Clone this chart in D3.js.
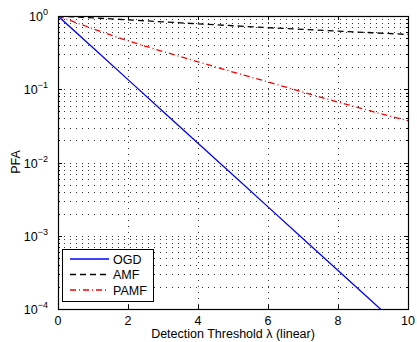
<!DOCTYPE html>
<html lang="en">
<head>
<meta charset="UTF-8">
<title>PFA vs Detection Threshold</title>
<script src="https://cdn.jsdelivr.net/npm/d3@7.8.5/dist/d3.min.js"></script>
<style>
  body { margin: 0; background: #fff; }
  svg { display: block; font-family: "Liberation Sans", Arial, sans-serif; }
  .grid line { stroke: #333; stroke-width: 1; stroke-dasharray: 1,5; }
</style>
</head>
<body>
<svg id="chart" width="417" height="342"></svg>
<script>
// Data
const lambda = [0, 1, 2, 3, 4, 5, 6, 7, 8, 9, 10];
const ogd = lambda.map(v => Math.exp(-v));          // straight line, 1e-4 near 9.2
const amfLog = [0, -0.026, -0.052, -0.08, -0.107, -0.133, -0.16, -0.183, -0.206, -0.229, -0.252];
const pamfLog = [0, -0.175, -0.34, -0.485, -0.625, -0.765, -0.9, -1.04, -1.175, -1.305, -1.43];
const amf = amfLog.map(v => Math.pow(10, v));
const pamf = pamfLog.map(v => Math.pow(10, v));

const xTicks = [0, 2, 4, 6, 8, 10];
const yDecades = [0, -1, -2, -3, -4];

const series = [
  { name: "OGD", values: ogd, color: "#0000ff", dash: null },
  { name: "AMF", values: amf, color: "#000000", dash: "6,4" },
  { name: "PAMF", values: pamf, color: "#ff0000", dash: "6,3,1,3" }
];

const svg = d3.select("#chart");
const m = { left: 58, right: 408, top: 16, bottom: 309 };

const x = d3.scaleLinear().domain([0, 10]).range([m.left, m.right]);
const y = d3.scaleLog().domain([1e-4, 1]).range([m.bottom, m.top]);

// minor positions
const minors = [];
yDecades.slice(1).forEach(e => {
  for (let k = 2; k <= 9; k++) minors.push(k * Math.pow(10, e));
});

// grid
const grid = svg.append("g").attr("class", "grid");
grid.selectAll(".hy").data(minors.concat(yDecades.slice(1, 4).map(e => Math.pow(10, e))))
  .enter().append("line")
  .attr("x1", m.left).attr("x2", m.right)
  .attr("y1", d => Math.round(y(d)) + 0.5).attr("y2", d => Math.round(y(d)) + 0.5);
grid.selectAll(".vx").data(xTicks.slice(1, -1))
  .enter().append("line")
  .attr("y1", m.top).attr("y2", m.bottom)
  .attr("x1", d => Math.round(x(d)) + 0.5).attr("x2", d => Math.round(x(d)) + 0.5);

// series
const plot = svg.append("g");
const clip = svg.append("clipPath").attr("id", "clip").append("rect")
  .attr("x", m.left).attr("y", m.top).attr("width", m.right - m.left).attr("height", m.bottom - m.top);
const line = d3.line().x((d, i) => x(lambda[i])).y(d => y(d));
series.forEach(s => {
  plot.append("path")
    .attr("clip-path", "url(#clip)")
    .attr("d", line(s.values))
    .attr("fill", "none")
    .attr("stroke", s.color)
    .attr("stroke-width", 1.3)
    .attr("stroke-dasharray", s.dash);
});

// frame
svg.append("rect")
  .attr("x", m.left + 0.5).attr("y", m.top + 0.5)
  .attr("width", m.right - m.left).attr("height", m.bottom - m.top)
  .attr("fill", "none").attr("stroke", "#000").attr("stroke-width", 1.2);

// ticks (inside, all four sides)
const tk = svg.append("g").attr("stroke", "#000").attr("stroke-width", 1);
xTicks.forEach(t => {
  const px = Math.round(x(t)) + 0.5;
  tk.append("line").attr("x1", px).attr("x2", px).attr("y1", m.bottom).attr("y2", m.bottom - 4);
  tk.append("line").attr("x1", px).attr("x2", px).attr("y1", m.top).attr("y2", m.top + 4);
});
yDecades.forEach(e => {
  const py = Math.round(y(Math.pow(10, e))) + 0.5;
  tk.append("line").attr("x1", m.left).attr("x2", m.left + 4).attr("y1", py).attr("y2", py);
  tk.append("line").attr("x1", m.right).attr("x2", m.right - 4).attr("y1", py).attr("y2", py);
});
minors.forEach(v => {
  const py = Math.round(y(v)) + 0.5;
  tk.append("line").attr("x1", m.left).attr("x2", m.left + 2).attr("y1", py).attr("y2", py);
  tk.append("line").attr("x1", m.right).attr("x2", m.right - 2).attr("y1", py).attr("y2", py);
});

// tick labels
svg.append("g").selectAll("text").data(xTicks).enter().append("text")
  .attr("x", d => x(d)).attr("y", 325)
  .attr("text-anchor", "middle").attr("font-size", 12.5).text(d => d);

const yl = svg.append("g");
yDecades.forEach(e => {
  const py = y(Math.pow(10, e));
  const t = yl.append("text").attr("x", 48).attr("y", py + 5)
    .attr("text-anchor", "end").attr("font-size", 12.5);
  t.append("tspan").text("10");
  t.append("tspan").attr("dy", -6).attr("font-size", 9).text(e === 0 ? "0" : "\u2212" + (-e));
});

// axis labels
svg.append("text").attr("x", x(5)).attr("y", 338)
  .attr("text-anchor", "middle").attr("font-size", 12.5)
  .text("Detection Threshold \u03bb (linear)");
svg.append("text").attr("transform", "translate(20,162) rotate(-90)")
  .attr("text-anchor", "middle").attr("font-size", 12.5).text("PFA");

// legend
const lg = svg.append("g");
lg.append("rect").attr("x", 62.5).attr("y", 249.5).attr("width", 91).attr("height", 52)
  .attr("fill", "#fff").attr("stroke", "#000");
series.forEach((s, i) => {
  const ly = 259 + i * 15.5;
  lg.append("line").attr("x1", 70).attr("x2", 109).attr("y1", ly).attr("y2", ly)
    .attr("stroke", s.color).attr("stroke-width", 1.3).attr("stroke-dasharray", s.dash);
  lg.append("text").attr("x", 113).attr("y", ly + 4.5).attr("font-size", 12.5).text(s.name);
});
</script>
</body>
</html>
